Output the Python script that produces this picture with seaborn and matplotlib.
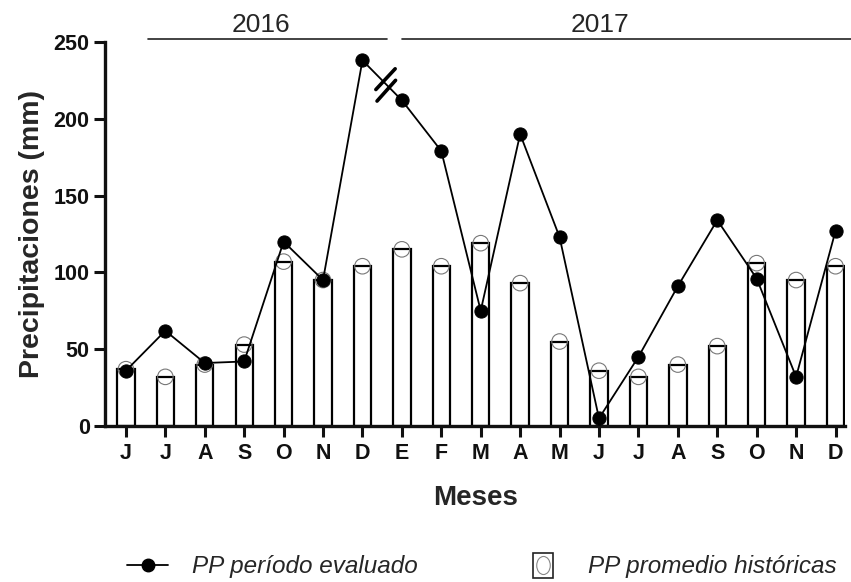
import matplotlib.pyplot as plt
import seaborn as sns
import pandas as pd
from matplotlib.lines import Line2D
from matplotlib.markers import MarkerStyle
from matplotlib.transforms import Affine2D
from matplotlib.legend_handler import HandlerTuple

# Données (juin 2016 - décembre 2017)
meses = ["J", "J", "A", "S", "O", "N", "D", "E", "F", "M", "A", "M",
         "J", "J", "A", "S", "O", "N", "D"]
pp_evaluado = [36, 62, 41, 42, 120, 95, 238, 212, 179, 75, 190, 123,
               5, 45, 91, 134, 96, 32, 127]
pp_historico = [37, 32, 40, 53, 107, 95, 104, 115, 104, 119, 93, 55,
                36, 32, 40, 52, 106, 95, 104]

df = pd.DataFrame({"idx": range(len(meses)), "mes": meses,
                   "evaluado": pp_evaluado, "historico": pp_historico})

sns.set_style("ticks")
plt.rcParams["font.family"] = ["Liberation Sans", "DejaVu Sans"]

fig = plt.figure(figsize=(8.51, 5.82), dpi=100)
ax = fig.add_axes([0.1234, 0.268, 0.870, 0.660])

sns.barplot(data=df, x="idx", y="historico", width=0.44, color="white",
            edgecolor="black", linewidth=1.6, saturation=1, ax=ax, zorder=2)
ax.scatter(df["idx"], df["historico"], s=125, facecolors="none",
           edgecolors="#777777", linewidths=0.8, zorder=3)
sns.lineplot(data=df, x="idx", y="evaluado", color="black", linewidth=1.3,
             marker="o", markersize=9.5, markeredgecolor="black", ax=ax, zorder=4)

# marque de coupure entre D et E
ax.plot([6.34, 6.83], [219, 232.5], color="black", linewidth=2.6,
        solid_capstyle="round", zorder=5)
ax.plot([6.37, 6.84], [211.5, 225], color="black", linewidth=2.6,
        solid_capstyle="round", zorder=5)

ax.set_xlim(-0.53, 18.25)
ax.set_ylim(0, 250)
ax.set_yticks([0, 50, 100, 150, 200, 250])
ax.set_xticks(range(len(meses)))
ax.set_xticklabels(meses)
for lbl in ax.get_xticklabels() + ax.get_yticklabels():
    lbl.set_fontweight("bold")
    lbl.set_fontsize(15.5)
ax.tick_params(width=2.2, length=8, pad=3, colors="#111111")
ax.tick_params(axis="x", pad=4)
for s in ("left", "bottom"):
    ax.spines[s].set_linewidth(2.4)
    ax.spines[s].set_color("#111111")
sns.despine(ax=ax)
ax.set_xlabel("Meses", fontsize=20, fontweight="bold", labelpad=15)
ax.set_ylabel("Precipitaciones (mm)", fontsize=20.5, fontweight="bold", labelpad=6)

# années au-dessus
y_line = 1 - 39 / 582
fig.add_artist(Line2D([148 / 851, 387 / 851], [y_line, y_line], color="#222222", linewidth=1.2))
fig.add_artist(Line2D([402 / 851, 1.0], [y_line, y_line], color="#222222", linewidth=1.2))
fig.text(261 / 851, 1 - 25 / 582, "2016", ha="center", va="center", fontsize=19)
fig.text(600 / 851, 1 - 25 / 582, "2017", ha="center", va="center", fontsize=19)

# légende
h_line = Line2D([], [], color="black", marker="o", markersize=9, linewidth=1.3)
rect = Line2D([], [], linestyle="none", markersize=18, markerfacecolor="white",
              markeredgecolor="#222222", markeredgewidth=1.2,
              marker=MarkerStyle("s", transform=Affine2D().scale(0.78, 1)))
circ = Line2D([], [], linestyle="none", markersize=13,
              markerfacecolor="none", markeredgecolor="#888888", markeredgewidth=0.8,
              marker=MarkerStyle("o", transform=Affine2D().scale(0.75, 1)))
fig.legend([h_line, (rect, circ)], ["PP período evaluado", "PP promedio históricas"],
           handler_map={tuple: HandlerTuple(ndivide=1)},
           loc="center left", bbox_to_anchor=(127 / 851, 1 - 567 / 582), ncol=2,
           frameon=False, borderpad=0, borderaxespad=0,
           prop={"style": "italic", "size": 17.5}, columnspacing=4.3,
           handlelength=1.69, handletextpad=0.99)

plt.savefig("out.png", dpi=100)
